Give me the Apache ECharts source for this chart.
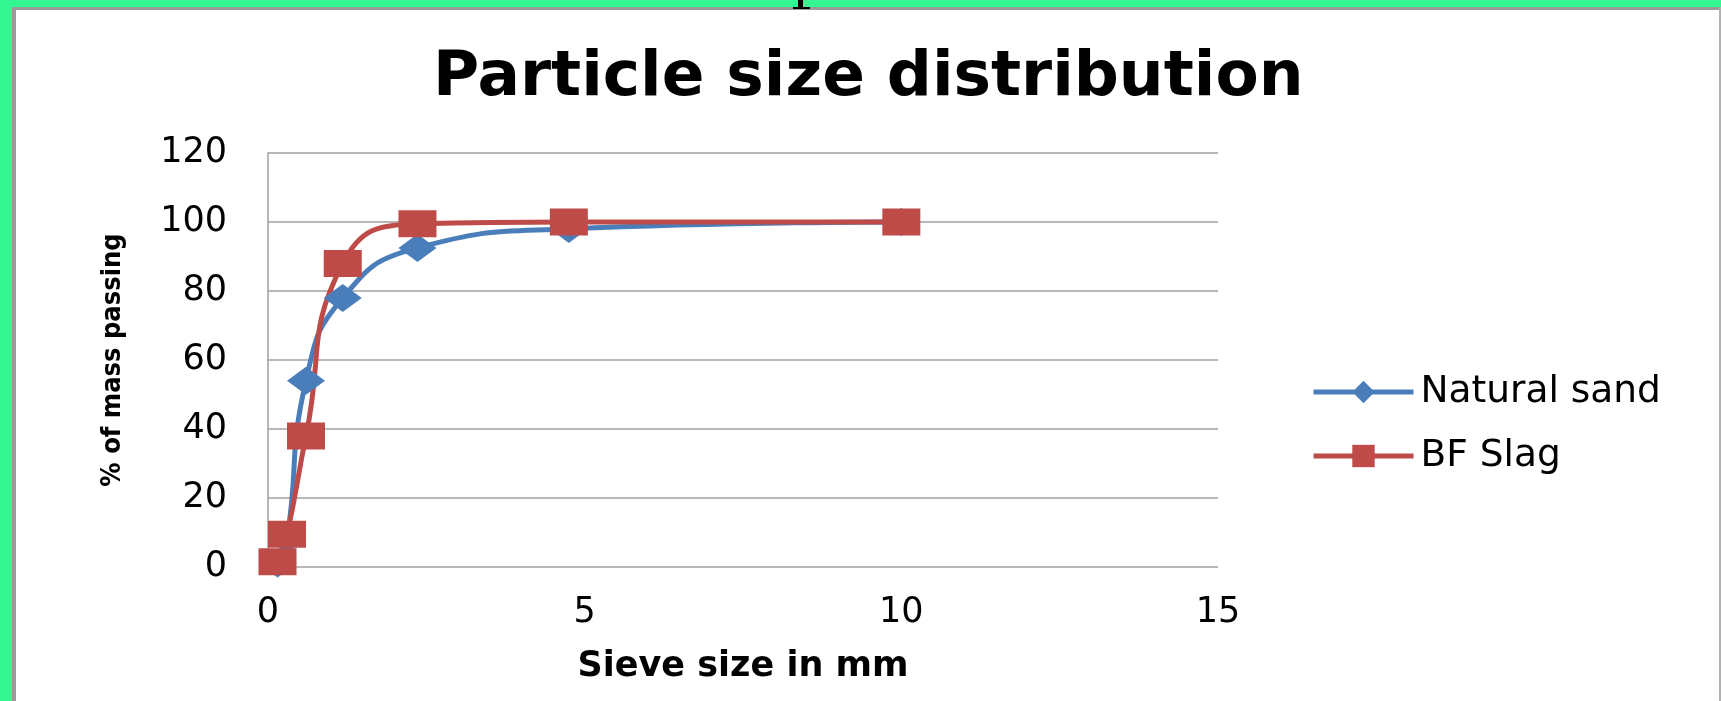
<!DOCTYPE html>
<html>
<head>
<meta charset="utf-8">
<style>
html,body{margin:0;padding:0;background:#fff;}
#chart{width:1721px;height:701px;}
</style>
<script src="https://cdn.jsdelivr.net/npm/echarts@6/dist/echarts.min.js"></script>
</head>
<body>
<div id="chart"></div>
<script>
// Sieve sizes (mm)
var sieveSizes = [0.15, 0.3, 0.6, 1.18, 2.36, 4.75, 10];
// % of mass passing
var naturalSand = [1, 8, 54, 78, 92.5, 98, 100];
var bfSlag = [1.5, 9.5, 38, 88, 99.5, 100, 100];
var seriesNames = ['Natural sand', 'BF Slag'];
var titleText = 'Particle size distribution';
var xAxisTitle = 'Sieve size in mm';
var yAxisTitle = '% of mass passing';

function pairs(xs, ys) { return xs.map(function (x, i) { return [x, ys[i]]; }); }

var chart = echarts.init(document.getElementById('chart'));
var gridColor = '#a0a0a0';
chart.setOption({
  backgroundColor: '#ffffff',
  animation: false,
  title: {
    text: titleText,
    left: 433,
    top: 47,
    padding: 0,
    textStyle: { fontFamily: 'DejaVu Sans', fontWeight: 'bold', fontSize: 63, color: '#000' }
  },
  legend: {
    orient: 'vertical',
    left: 1306,
    top: 368,
    itemWidth: 100,
    itemHeight: 28,
    itemGap: 26,
    data: seriesNames,
    lineStyle: { width: 5 },
    textStyle: { fontFamily: 'DejaVu Sans', fontSize: 37.5, color: '#000', padding: [0, 0, 0, 2] }
  },
  grid: { left: 268, right: 503, top: 153, bottom: 134 },
  xAxis: {
    type: 'value',
    min: 0, max: 15, interval: 5,
    name: xAxisTitle,
    nameLocation: 'middle',
    nameGap: 82,
    nameTextStyle: { fontFamily: 'DejaVu Sans', fontWeight: 'bold', fontSize: 35, color: '#000' },
    axisLine: { show: false },
    axisTick: { show: false },
    splitLine: { show: false },
    axisLabel: { margin: 28, fontFamily: 'DejaVu Sans', fontSize: 35, color: '#000' }
  },
  yAxis: {
    type: 'value',
    min: 0, max: 120, interval: 20,
    name: yAxisTitle,
    nameLocation: 'middle',
    nameGap: 142,
    nameRotate: 90,
    nameTextStyle: { fontFamily: "'DejaVu Sans Condensed', 'DejaVu Sans'", fontWeight: 'bold', fontSize: 27, color: '#000' },
    axisLine: { show: true, lineStyle: { color: gridColor, width: 1.5 } },
    axisTick: { show: false },
    splitLine: { show: true, lineStyle: { color: gridColor, width: 1.5 } },
    axisLabel: { margin: 41, fontFamily: 'DejaVu Sans', fontSize: 35, color: '#000' }
  },
  series: [
    {
      name: seriesNames[0],
      type: 'line',
      smooth: 0.5,
      data: pairs(sieveSizes, naturalSand),
      symbol: 'diamond',
      symbolSize: [38, 28],
      lineStyle: { color: '#4a7ebb', width: 5 },
      itemStyle: { color: '#4a7ebb' }
    },
    {
      name: seriesNames[1],
      type: 'line',
      smooth: 0.5,
      data: pairs(sieveSizes, bfSlag),
      symbol: 'rect',
      symbolSize: [38, 27],
      lineStyle: { color: '#be4b48', width: 5 },
      itemStyle: { color: '#be4b48' }
    }
  ],
  graphic: [
    { type: 'rect', shape: { x: 0, y: 0, width: 1721, height: 7 }, style: { fill: '#34f792' }, silent: true },
    { type: 'rect', shape: { x: 0, y: 0, width: 12, height: 701 }, style: { fill: '#34f792' }, silent: true },
    { type: 'rect', shape: { x: 12, y: 7, width: 1709, height: 3 }, style: { fill: '#9a9a9a' }, silent: true },
    { type: 'rect', shape: { x: 12, y: 7, width: 4, height: 694 }, style: { fill: '#9a9a9a' }, silent: true },
    { type: 'rect', shape: { x: 1719, y: 7, width: 2, height: 694 }, style: { fill: '#b0b0b0' }, silent: true },
    { type: 'rect', shape: { x: 798, y: 0, width: 5, height: 8 }, style: { fill: '#000' }, silent: true },
    { type: 'rect', shape: { x: 793, y: 7, width: 17, height: 2 }, style: { fill: '#000' }, silent: true }
  ]
});
</script>
</body>
</html>
